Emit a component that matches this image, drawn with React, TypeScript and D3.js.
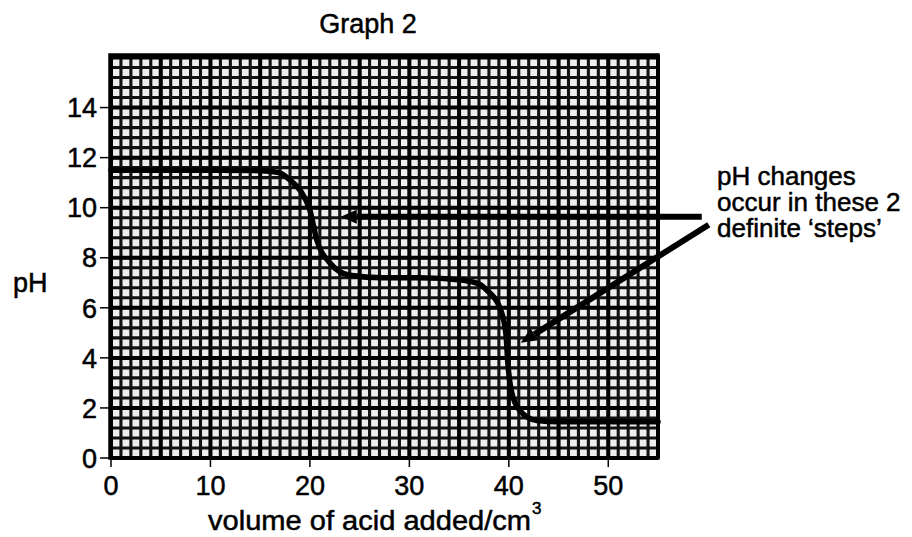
import React from "react";
import * as d3 from "d3";

const volume = [0, 5, 10, 15, 16.9, 18, 19, 20, 20.7, 22, 24, 27.3, 31, 35.4, 37, 37.8, 39.1, 39.7, 39.9, 40.3, 41.1, 42.8, 45, 50, 55];
const pH = [11.5, 11.5, 11.5, 11.48, 11.4, 11.1, 10.7, 9.9, 8.7, 7.8, 7.3, 7.2, 7.2, 7.1, 6.95, 6.7, 6.0, 5.0, 3.8, 2.6, 1.9, 1.5, 1.45, 1.45, 1.45];

const xTicks = [0, 10, 20, 30, 40, 50];
const yTicks = [0, 2, 4, 6, 8, 10, 12, 14];
const annotationLines = ["pH changes", "occur in these 2", "definite \u2018steps\u2019"];
// arrows in data units: [tailX, tailY, tipX, tipY]
const arrows = [
  [59.4, 9.64, 23.1, 9.64],
  [60.1, 9.32, 41.2, 4.6],
];

const W = 912;
const H = 537;
const FONT = "'Liberation Sans', Arial, Helvetica, sans-serif";

export default function App() {
  const x = d3.scaleLinear().domain([0, 55]).range([111, 658]);
  const y = d3.scaleLinear().domain([0, 16.1]).range([458, 55]);

  const minorX = d3.range(0, 55.01, 1);
  const minorY = d3.range(0, 16.01, 0.4);
  const majorX = d3.range(0, 55.01, 5);
  const majorY = d3.range(0, 16.01, 2);

  const line = d3
    .line<number>()
    .x((d, i) => x(volume[i]))
    .y((d) => y(d))
    .curve(d3.curveMonotoneX);

  const arrowHead = (a: number[]) => {
    const [tx0, ty0, tx1, ty1] = a;
    const x0 = x(tx0), y0 = y(ty0), x1 = x(tx1), y1 = y(ty1);
    const ang = Math.atan2(y1 - y0, x1 - x0);
    const len = 16, hw = 7;
    const bx = x1 - len * Math.cos(ang), by = y1 - len * Math.sin(ang);
    const px = -Math.sin(ang), py = Math.cos(ang);
    return {
      shaft: { x1: x0, y1: y0, x2: bx, y2: by },
      head: `M${x1},${y1}L${bx + hw * px},${by + hw * py}L${bx - hw * px},${by - hw * py}Z`,
    };
  };

  return (
    <svg width={W} height={H} style={{ position: "absolute", left: 0, top: 0, background: "#fff" }} fontFamily={FONT}>
      <g fill="#000" stroke="#000" strokeWidth={0.5}>
        <text x={368} y={33} fontSize={27} textAnchor="middle">Graph 2</text>
      </g>

      <rect x={x(0) - 1} y={y(16.1)} width={x(55) - x(0) + 1} height={y(0) - y(16.1)} fill="#eee" />
      <g stroke="#111" strokeWidth={3.1}>
        {minorX.map((v) => (
          <line key={"mx" + v} x1={x(v)} x2={x(v)} y1={y(16.1)} y2={y(0)} />
        ))}
        {minorY.map((v) => (
          <line key={"my" + v} x1={x(0)} x2={x(55)} y1={y(v)} y2={y(v)} />
        ))}
      </g>
      <g stroke="#000" strokeWidth={4}>
        {majorX.map((v) => (
          <line key={"Mx" + v} x1={x(v)} x2={x(v)} y1={y(16.1)} y2={y(0)} />
        ))}
        {majorY.map((v) => (
          <line key={"My" + v} x1={x(0)} x2={x(55)} y1={y(v)} y2={y(v)} />
        ))}
      </g>
      <rect x={x(0) - 1} y={y(16.1)} width={x(55) - x(0) + 1} height={y(0) - y(16.1)} fill="none" stroke="#000" strokeWidth={3.5} />

      <path d={line(pH) || ""} fill="none" stroke="#000" strokeWidth={5.5} strokeLinecap="round" />

      <g stroke="#000" strokeWidth={1.5}>
        {yTicks.map((v) => (
          <line key={"yt" + v} x1={x(0) - 11} x2={x(0)} y1={y(v)} y2={y(v)} />
        ))}
        {xTicks.map((v) => (
          <line key={"xt" + v} x1={x(v)} x2={x(v)} y1={y(0)} y2={y(0) + 9} />
        ))}
      </g>
      <g fontSize={27} fill="#000" stroke="#000" strokeWidth={0.5}>
        {yTicks.map((v) => (
          <text key={"yl" + v} x={97} y={y(v)} dy="0.36em" textAnchor="end">{v}</text>
        ))}
        {xTicks.map((v) => (
          <text key={"xl" + v} x={x(v)} y={495} textAnchor="middle">{v}</text>
        ))}
        <text x={13} y={292}>pH</text>
        <text x={208} y={530} textLength={323} lengthAdjust="spacingAndGlyphs">volume of acid added/cm</text>
        <text x={532} y={514} fontSize={17}>3</text>
        {annotationLines.map((t, i) => (
          <text key={"an" + i} x={717} y={185 + i * 26} fontSize={26}>{t}</text>
        ))}
      </g>

      {arrows.map((a, i) => {
        const h = arrowHead(a);
        return (
          <g key={"ar" + i}>
            <line {...h.shaft} stroke="#000" strokeWidth={6} />
            <path d={h.head} fill="#000" />
          </g>
        );
      })}
    </svg>
  );
}
